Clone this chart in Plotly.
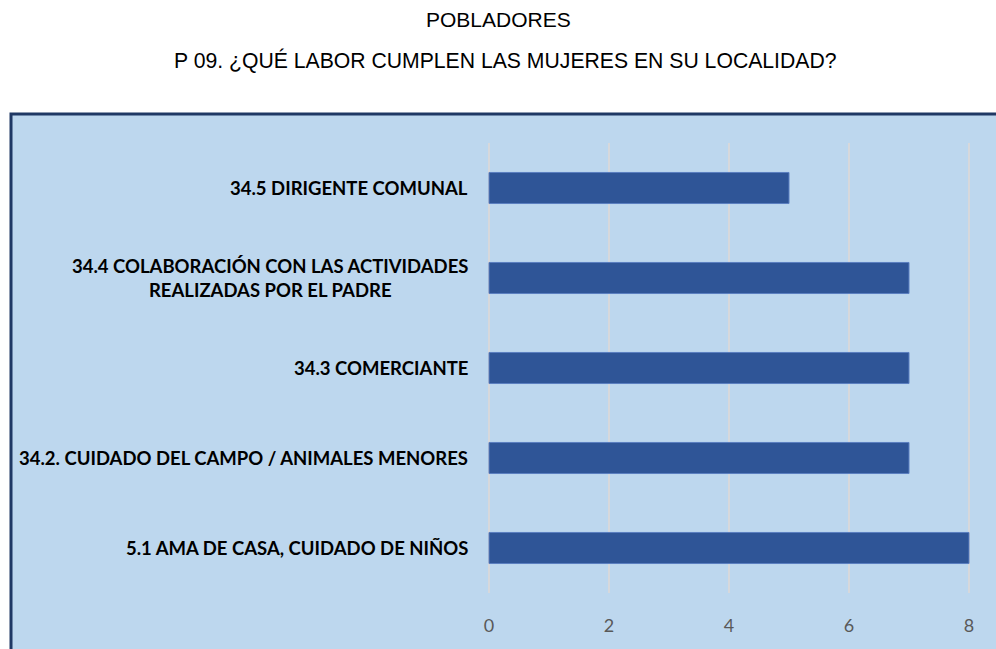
import plotly.graph_objects as go

# Data (bottom to top as plotted)
categories = [
    "5.1 AMA DE CASA, CUIDADO DE NIÑOS",
    "34.2. CUIDADO DEL CAMPO / ANIMALES MENORES",
    "34.3 COMERCIANTE",
    "34.4 COLABORACIÓN CON LAS ACTIVIDADES<br>REALIZADAS POR EL PADRE",
    "34.5 DIRIGENTE COMUNAL",
]
values = [8, 7, 7, 7, 5]
x_ticks = [0, 2, 4, 6, 8]
title_1 = "POBLADORES"
title_2 = "P 09. ¿QUÉ LABOR CUMPLEN LAS MUJERES EN SU LOCALIDAD?"

W, H = 996, 649
L, R, T, B = 487, 25, 143, 56
pw, ph = W - L - R, H - T - B
pad_units = 2 / 60.0  # extend range so edge gridlines at 0 and 8 are drawn

def px_to_paper_x(px):
    return (px - L) / pw

def px_to_paper_y(py):
    return (H - B - py) / ph

fig = go.Figure()
fig.add_trace(go.Bar(
    y=list(range(len(categories))),
    x=values,
    orientation="h",
    marker=dict(color="#2F5597", line=dict(color="#5B7FC0", width=1)),
    hoverinfo="skip",
))

annotations = []
for i, c in enumerate(categories):
    annotations.append(dict(
        x=0, xref="x", y=i, yref="y", text=c, showarrow=False,
        xanchor="right", yanchor="middle", align="center", xshift=-19,
        font=dict(family="Lato", size=18.5, color="#000000", weight="bold"),
    ))
annotations.append(dict(x=px_to_paper_x(498), xref="paper", y=px_to_paper_y(20), yref="paper",
                        text=title_1, showarrow=False, xanchor="center", yanchor="middle",
                        font=dict(family="Liberation Sans", size=21, color="#000000")))
annotations.append(dict(x=px_to_paper_x(505), xref="paper", y=px_to_paper_y(60), yref="paper",
                        text=title_2, showarrow=False, xanchor="center", yanchor="middle",
                        font=dict(family="Liberation Sans", size=21.2, color="#000000")))

shapes = [dict(
    type="rect", xref="paper", yref="paper", layer="below",
    x0=px_to_paper_x(11), x1=px_to_paper_x(1010),
    y0=px_to_paper_y(700), y1=px_to_paper_y(114),
    fillcolor="#BDD7EE", line=dict(color="#1F3864", width=3),
)]

fig.update_layout(
    width=W, height=H,
    margin=dict(l=L, r=R, t=T, b=B, pad=0),
    paper_bgcolor="#FFFFFF",
    plot_bgcolor="rgba(0,0,0,0)",
    showlegend=False,
    bargap=0.655,
    shapes=shapes,
    annotations=annotations,
    xaxis=dict(
        range=[x_ticks[0] - pad_units, x_ticks[-1] + pad_units], tickvals=x_ticks,
        showgrid=True, gridcolor="#D6D8DC", gridwidth=2,
        zeroline=False, showline=False, ticks="outside", ticklen=16, tickcolor="rgba(0,0,0,0)",
        tickfont=dict(family="Lato", size=18, color="#595959"),
    ),
    yaxis=dict(
        range=[-0.5, len(categories) - 0.5], showticklabels=False, showgrid=False,
        zeroline=False, showline=False,
    ),
)

fig.write_html("out.html", post_script="document.body.style.margin='0';",
               config={"displayModeBar": False})
